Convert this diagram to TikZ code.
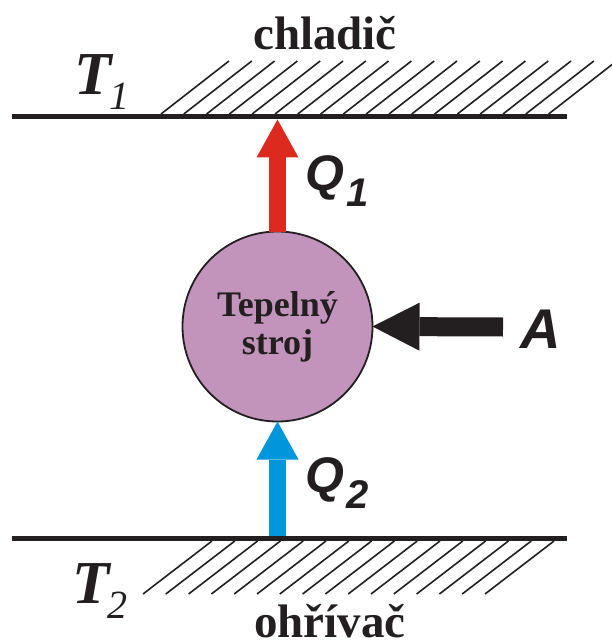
\documentclass[tikz,border=0pt]{standalone}
\usepackage{fontspec}
\usepackage{tikz}
\usetikzlibrary{arrows.meta}
\setmainfont{Liberation Serif}
\newfontfamily\arialf{Liberation Sans}
\definecolor{tmava}{HTML}{231F20}
\definecolor{cervena}{HTML}{DC2A1F}
\definecolor{modra}{HTML}{0096DB}
\definecolor{fialova}{HTML}{C294BC}
% popisky teplot a tepel
\newcommand{\teplota}[1]{{\fontsize{61}{61}\selectfont\bfseries\itshape T}\kern-2pt\raisebox{-15pt}{\fontsize{40}{40}\selectfont\itshape #1}}
\newcommand{\teplo}[1]{{\arialf\fontsize{50}{50}\selectfont\bfseries\itshape Q}\kern2pt\raisebox{-16pt}{\arialf\fontsize{40}{40}\selectfont\bfseries\itshape #1}}

\begin{document}
\begin{tikzpicture}[x=1pt,y=-1pt,
  deska/.style={line width=5.5pt,draw=tmava},
  srafa/.style={line width=1.6pt,draw=tmava},
  tok/.style={line width=17pt,-{Triangle[length=38pt,width=42pt,line width=0pt]}},
  nadpis/.style={text=tmava,font=\fontsize{47}{47}\selectfont\bfseries,anchor=base,inner sep=0pt},
  popis/.style={anchor=base west,text=tmava,inner sep=0pt},
  strojek/.style={circle,draw=tmava,line width=1.8pt,fill=fialova,minimum size=190pt,
    inner sep=0pt,outer sep=0pt,align=center,text=tmava,
    font=\fontsize{36}{38}\selectfont\bfseries}]
\useasboundingbox (0,0) rectangle (611,644);
% chladic nahore
\coordinate (c1) at (12,116.5);
\coordinate (c2) at (567,116.5);
\draw[deska] (c1) -- (c2);
\foreach \i in {0,...,17} \draw[srafa] (161+22.8*\i,114) -- ++(68,-53);
\node[nadpis] (chl) at (325,50) {chladič};
\node[popis] (T1) at (74,95) {\teplota{1}};
% ohrivac dole
\coordinate (o1) at (12,538.5);
\coordinate (o2) at (567,538.5);
\draw[deska] (o1) -- (o2);
\foreach \i in {0,...,15} \draw[srafa] (212+22.8*\i,541) -- ++(-69,53);
\node[nadpis] (ohr) at (330,637) {ohřívač};
\node[popis] (T2) at (72,603) {\teplota{2}};
% tepelny stroj
\node[strojek] (stroj) at (277.5,326.5) {Tepelný\\stroj};
% toky tepla
\coordinate (q1) at (277.5,119.5);
\draw[tok,cervena] (stroj.north) -- (q1);
\node[popis] (Q1) at (305,191) {\teplo{1}};
\coordinate (q2) at (277.5,536);
\draw[tok,modra] (q2) -- (stroj.south);
\node[popis] (Q2) at (305,492) {\teplo{2}};
% prace
\coordinate (pr) at (503,327);
\draw[tmava,line width=19pt,-{Triangle[length=47pt,width=48pt,line width=0pt]}] (pr) -- (stroj.east);
\node[popis,font=\arialf\fontsize{56}{56}\selectfont\bfseries\itshape] (A) at (520,348) {A};
\end{tikzpicture}
\end{document}
